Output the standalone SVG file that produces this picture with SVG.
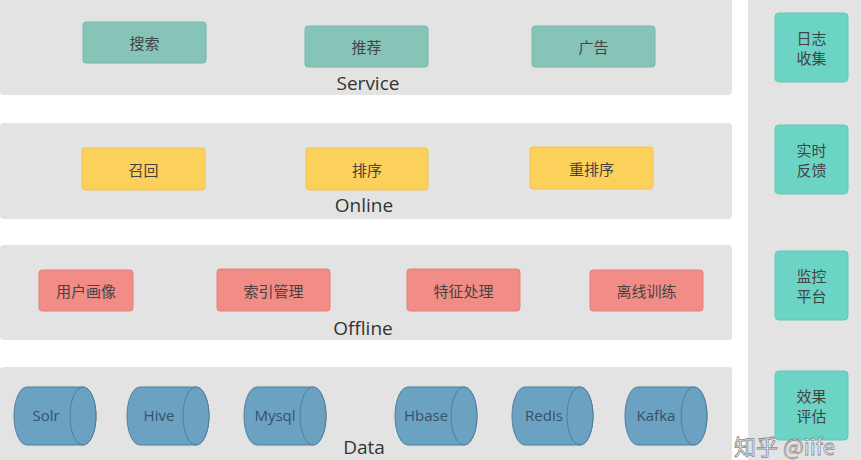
<svg xmlns="http://www.w3.org/2000/svg" width="861" height="460" viewBox="0 0 861 460">
<style>
.band{fill:#e3e3e3}
.svc{fill:#86c4b7;stroke:#7ab8ab;stroke-width:1}
.onl{fill:#fbd05b;stroke:#efc24f;stroke-width:1}
.off{fill:#f18c86;stroke:#e4807a;stroke-width:1}
.side{fill:#6cd4c4;stroke:#62c8b8;stroke-width:1}
.cyl{fill:#6ba2c1;stroke:#4d7f9c;stroke-width:1}
.t{font-family:"Noto Sans CJK SC","Noto Sans",sans-serif;font-size:15px;fill:#444;text-anchor:middle;dominant-baseline:central}
.lbl{font-family:"Open Sans","Noto Sans",sans-serif;font-size:19px;fill:#333;text-anchor:middle}
.dt{font-family:"Open Sans","Noto Sans",sans-serif;font-size:15px;fill:#37506a;text-anchor:middle;dominant-baseline:central}
</style>
<rect width="861" height="460" fill="#ffffff"/>
<g id="layers">
<rect class="band" x="0" y="-10" width="732" height="105" rx="4"/>
<rect class="band" x="0" y="123" width="732" height="96" rx="4"/>
<rect class="band" x="0" y="245" width="732" height="95" rx="4"/>
<rect class="band" x="0" y="367" width="732" height="103" rx="4"/>
<rect class="band" x="748" y="-10" width="123" height="480" rx="4"/>
<text class="lbl" x="368" y="90">Service</text>
<text class="lbl" x="364" y="212">Online</text>
<text class="lbl" x="363" y="335">Offline</text>
<text class="lbl" x="364" y="454">Data</text>
</g>
<g id="svc-search"><rect class="svc" x="83" y="22" width="123" height="41" rx="3"/><text class="t" x="144.5" y="42.5">搜索</text></g>
<g id="svc-rec"><rect class="svc" x="305" y="26" width="123" height="41" rx="3"/><text class="t" x="366.5" y="46.5">推荐</text></g>
<g id="svc-ad"><rect class="svc" x="532" y="26" width="123" height="41" rx="3"/><text class="t" x="593.5" y="46.5">广告</text></g>
<g id="onl-recall"><rect class="onl" x="82" y="148" width="123" height="42" rx="3"/><text class="t" x="143.5" y="169">召回</text></g>
<g id="onl-rank"><rect class="onl" x="306" y="148" width="122" height="42" rx="3"/><text class="t" x="367" y="169">排序</text></g>
<g id="onl-rerank"><rect class="onl" x="530" y="147" width="123" height="42" rx="3"/><text class="t" x="591.5" y="168">重排序</text></g>
<g id="off-profile"><rect class="off" x="39" y="270" width="94" height="41" rx="3"/><text class="t" x="86" y="290.5">用户画像</text></g>
<g id="off-index"><rect class="off" x="217" y="269" width="113" height="42" rx="3"/><text class="t" x="273.5" y="290">索引管理</text></g>
<g id="off-feature"><rect class="off" x="407" y="269" width="113" height="42" rx="3"/><text class="t" x="463.5" y="290">特征处理</text></g>
<g id="off-train"><rect class="off" x="590" y="270" width="113" height="41" rx="3"/><text class="t" x="646.5" y="290.5">离线训练</text></g>
<g id="side-log"><rect class="side" x="775" y="13" width="73" height="69" rx="4"/><text class="t" x="811.5" y="37">日志</text><text class="t" x="811.5" y="57">收集</text></g>
<g id="side-feedback"><rect class="side" x="775" y="125" width="73" height="69" rx="4"/><text class="t" x="811.5" y="149">实时</text><text class="t" x="811.5" y="169">反馈</text></g>
<g id="side-monitor"><rect class="side" x="775" y="251" width="73" height="69" rx="4"/><text class="t" x="811.5" y="275">监控</text><text class="t" x="811.5" y="295">平台</text></g>
<g id="side-eval"><rect class="side" x="775" y="371" width="73" height="69" rx="4"/><text class="t" x="811.5" y="395">效果</text><text class="t" x="811.5" y="415">评估</text></g>
<g id="db-solr"><path class="cyl" d="M27,387 H83 A13,29 0 0 1 83,445 H27 A13,29 0 0 1 27,387 Z"/><ellipse class="cyl" cx="83" cy="416" rx="13" ry="29"/><text class="dt" x="46" y="415">Solr</text></g>
<g id="db-hive"><path class="cyl" d="M140,387 H196 A13,29 0 0 1 196,445 H140 A13,29 0 0 1 140,387 Z"/><ellipse class="cyl" cx="196" cy="416" rx="13" ry="29"/><text class="dt" x="159" y="415">Hive</text></g>
<g id="db-mysql"><path class="cyl" d="M257,387 H313 A13,29 0 0 1 313,445 H257 A13,29 0 0 1 257,387 Z"/><ellipse class="cyl" cx="313" cy="416" rx="13" ry="29"/><text class="dt" x="275" y="415">Mysql</text></g>
<g id="db-hbase"><path class="cyl" d="M408,387 H464 A13,29 0 0 1 464,445 H408 A13,29 0 0 1 408,387 Z"/><ellipse class="cyl" cx="464" cy="416" rx="13" ry="29"/><text class="dt" x="426" y="415">Hbase</text></g>
<g id="db-redis"><path class="cyl" d="M525,387 H580 A13,29 0 0 1 580,445 H525 A13,29 0 0 1 525,387 Z"/><ellipse class="cyl" cx="580" cy="416" rx="13" ry="29"/><text class="dt" x="544" y="415">Redis</text></g>
<g id="db-kafka"><path class="cyl" d="M638,387 H694 A13,29 0 0 1 694,445 H638 A13,29 0 0 1 638,387 Z"/><ellipse class="cyl" cx="694" cy="416" rx="13" ry="29"/><text class="dt" x="656" y="415">Kafka</text></g>
<g id="connectors"></g>
<text x="734" y="455" font-family="'Noto Sans CJK SC','Noto Sans',sans-serif" font-size="22" fill="#ffffff" stroke="#8a8a8a" stroke-width="0.8">知乎 @iife</text>
</svg>
